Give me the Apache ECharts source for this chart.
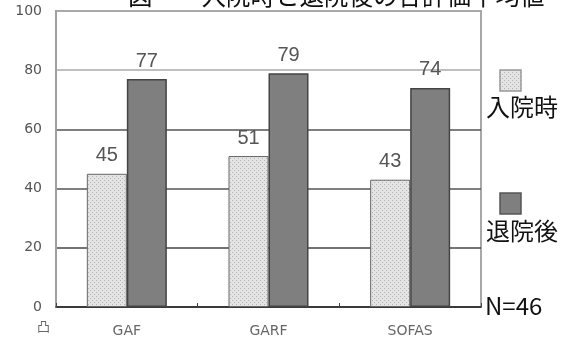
<!DOCTYPE html>
<html>
<head>
<meta charset="utf-8">
<script src="https://cdn.jsdelivr.net/npm/echarts@6/dist/echarts.min.js"></script>
<style>
  html, body { margin: 0; padding: 0; background: #fff; }
  #chart { width: 566px; height: 338px; }
</style>
</head>
<body>
<div id="chart"></div>
<script>
// 評価尺度ごとの平均値（入院時・退院後）
const categories = ['GAF', 'GARF', 'SOFAS'];
const admission = [45, 51, 43];
const discharge = [77, 79, 74];
const seriesNames = ['入院時', '退院後'];
const yTicks = { min: 0, max: 100, interval: 20 };
const titleText = '図　　入院時と退院後の各評価平均値';
const sampleNote = 'N=46';

// 入院時の棒に使う細かい点描パターン
function dotPattern() {
  const c = document.createElement('canvas');
  c.width = 4; c.height = 4;
  const g = c.getContext('2d');
  g.fillStyle = '#e4e4e4';
  g.fillRect(0, 0, 4, 4);
  g.fillStyle = '#b4b4b4';
  g.fillRect(0, 0, 1, 1);
  g.fillRect(2, 2, 1, 1);
  return c;
}
const dots = { image: dotPattern(), repeat: 'repeat' };
const darkFill = '#7f7f7f';

const chart = echarts.init(document.getElementById('chart'));
chart.setOption({
  animation: false,
  grid: {
    left: 56, right: 85, top: 11, bottom: 31,
    show: true, borderColor: '#a8a8a8', borderWidth: 2
  },
  xAxis: {
    type: 'category',
    data: categories,
    axisLine: { lineStyle: { color: '#333', width: 1.5 } },
    axisTick: { show: true, inside: true, length: 4, lineStyle: { color: '#444' } },
    axisLabel: { color: '#666', fontSize: 14, margin: 17, fontFamily: 'DejaVu Sans' }
  },
  yAxis: {
    type: 'value',
    min: yTicks.min, max: yTicks.max, interval: yTicks.interval,
    axisLine: { show: true, lineStyle: { color: '#a0a0a0', width: 2 } },
    axisTick: { show: false },
    axisLabel: { color: '#555', fontSize: 14, margin: 14, fontFamily: 'DejaVu Sans' },
    splitLine: {
      lineStyle: {
        color: ['#333', '#444', '#555', '#555', '#aaa', '#aaa'],
        width: 1.5
      }
    }
  },
  series: [
    {
      name: seriesNames[0],
      type: 'bar',
      data: admission,
      barWidth: 40,
      barGap: '0%',
      itemStyle: { color: dots, borderColor: '#666', borderWidth: 1 },
      label: {
        show: true, position: 'top', distance: 8,
        fontSize: 20, color: '#555', fontFamily: 'Liberation Sans'
      }
    },
    {
      name: seriesNames[1],
      type: 'bar',
      data: discharge,
      barWidth: 40,
      barGap: '0%',
      itemStyle: { color: darkFill, borderColor: '#444', borderWidth: 1.5 },
      label: {
        show: true, position: 'top', distance: 8,
        fontSize: 20, color: '#555', fontFamily: 'Liberation Sans'
      }
    }
  ],
  graphic: [
    {
      type: 'text', left: 128, top: -17,
      style: { text: titleText, fontSize: 24.5, fill: '#111', fontFamily: 'Noto Sans CJK JP' }
    },
    {
      type: 'rect', shape: { x: 500, y: 70, width: 21, height: 21 },
      style: { fill: dots, stroke: '#999', lineWidth: 1.5 }
    },
    {
      type: 'text', left: 486, top: 95,
      style: { text: seriesNames[0], fontSize: 24, fill: '#111', fontFamily: 'Noto Sans CJK JP' }
    },
    {
      type: 'rect', shape: { x: 500, y: 193, width: 21, height: 21 },
      style: { fill: darkFill, stroke: '#555', lineWidth: 1.5 }
    },
    {
      type: 'text', left: 486, top: 219,
      style: { text: seriesNames[1], fontSize: 24, fill: '#111', fontFamily: 'Noto Sans CJK JP' }
    },
    {
      type: 'text', left: 485, top: 294,
      style: { text: sampleNote, fontSize: 24, fill: '#111', fontFamily: 'Noto Sans CJK JP' }
    },
    {
      type: 'text', left: 37, top: 320,
      style: { text: '凸', fontSize: 13, fill: '#666', fontFamily: 'Noto Sans CJK JP' }
    }
  ]
});
</script>
</body>
</html>
